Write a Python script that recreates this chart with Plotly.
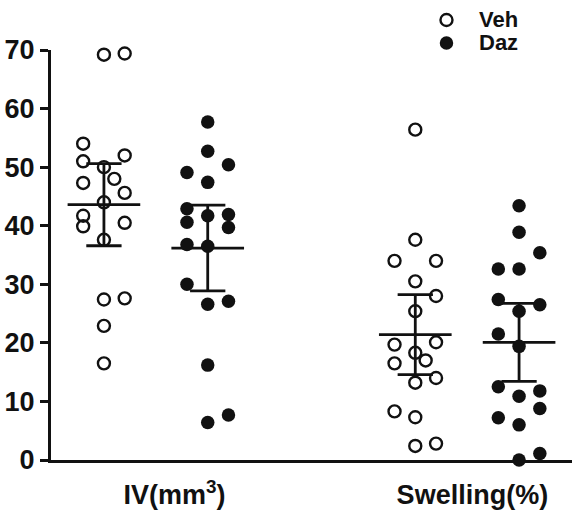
import numpy as np
import plotly.graph_objects as go

# ---- data ----
categories = ["IV(mm<sup>3</sup>)", "Swelling(%)"]
series_names = ["Veh", "Daz"]

iv_veh = [69.2, 69.4, 54.0, 51.0, 52.0, 50.0, 48.0, 47.3, 45.6, 44.0, 41.7, 39.9, 40.5, 37.6, 27.4, 27.6, 22.9, 16.5]
iv_veh_slot = [0, 1, -1, -1, 1, 0, 0.5, -1, 1, 0, -1, -1, 1, 0, 0, 1, 0, 0]

iv_daz = [57.7, 52.7, 50.4, 49.1, 47.4, 42.9, 41.7, 41.9, 40.6, 39.7, 36.8, 36.5, 30.0, 26.6, 27.1, 16.2, 6.4, 7.7]
iv_daz_slot = [0, 0, 1, -1, 0, -1, 0, 1, -1, 1, -1, 0, -1, 0, 1, 0, 0, 1]

sw_veh = [56.4, 37.6, 34.0, 34.0, 30.5, 28.0, 25.4, 19.7, 20.1, 18.3, 17.0, 16.5, 13.2, 14.0, 8.3, 7.3, 2.4, 2.8]
sw_veh_slot = [0, 0, -1, 1, 0, 1, 0, -1, 1, 0, 0.5, -1, 0, 1, -1, 0, 0, 1]

sw_daz = [43.4, 38.9, 35.4, 32.6, 32.6, 27.4, 26.5, 25.4, 21.5, 19.4, 12.5, 11.8, 10.9, 8.8, 7.2, 6.0, 1.1, 0.0]
sw_daz_slot = [0, 0, 1, -1, 0, -1, 1, 0, -1, 0, -1, 1, 0, 1, -1, 0, 1, 0]

y_ticks = [0, 10, 20, 30, 40, 50, 60, 70]

# ---- layout constants ----
W, H = 577, 522
ML, MR, MT, MB = 49, 5, 50, 62
group_pos = {"iv_veh": 1, "iv_daz": 2, "sw_veh": 4, "sw_daz": 5}
slot_w = 0.2
mean_half = 0.35
cap_half = 0.17
T_975_DF17 = 2.110  # two-sided 95% CI, n = 18

INK = "#111"
FONT = "Arial, Liberation Sans, sans-serif"

marker_styles = {
    "Veh": dict(symbol="circle-open", size=12, color=INK, line=dict(width=2.4, color=INK)),
    "Daz": dict(symbol="circle", size=13.5, color=INK, line=dict(width=0)),
}

groups = [
    ("iv_veh", iv_veh, iv_veh_slot, "Veh"),
    ("iv_daz", iv_daz, iv_daz_slot, "Daz"),
    ("sw_veh", sw_veh, sw_veh_slot, "Veh"),
    ("sw_daz", sw_daz, sw_daz_slot, "Daz"),
]

fig = go.Figure()

for key, vals, slots, name in groups:
    xc = group_pos[key]
    v = np.array(vals)
    m = v.mean()
    ci = T_975_DF17 * v.std(ddof=1) / np.sqrt(len(v))
    lo, hi = m - ci, m + ci
    ex = [xc - mean_half, xc + mean_half, None, xc, xc, None,
          xc - cap_half, xc + cap_half, None, xc - cap_half, xc + cap_half]
    ey = [m, m, None, lo, hi, None, hi, hi, None, lo, lo]
    fig.add_trace(go.Scatter(x=ex, y=ey, mode="lines", line=dict(color=INK, width=2.8),
                             showlegend=False, hoverinfo="skip", cliponaxis=False))

for key, vals, slots, name in groups:
    xc = group_pos[key]
    xs = [xc + s * slot_w for s in slots]
    fig.add_trace(go.Scatter(x=xs, y=vals, mode="markers", marker=marker_styles[name],
                             name=name, showlegend=False, cliponaxis=False))

# ---- legend drawn as shapes + text in paper coordinates ----
plot_w = W - ML - MR
plot_h = H - MT - MB


def px_to_paper(px, py):
    return (px - ML) / plot_w, (H - MB - py) / plot_h


legend_x_marker = 446
legend_x_text = 477
legend_rows = [20, 43]
for nm, yy in zip(series_names, legend_rows):
    mx, my = px_to_paper(legend_x_marker, yy)
    st = marker_styles[nm]
    r = st["size"] / 2
    if nm == "Veh":
        fig.add_shape(type="circle", xref="paper", yref="paper", xsizemode="pixel", ysizemode="pixel",
                      xanchor=mx, yanchor=my, x0=-r, x1=r, y0=-r, y1=r,
                      line=dict(color=INK, width=2.4), fillcolor="rgba(0,0,0,0)")
    else:
        fig.add_shape(type="circle", xref="paper", yref="paper", xsizemode="pixel", ysizemode="pixel",
                      xanchor=mx, yanchor=my, x0=-r, x1=r, y0=-r, y1=r,
                      line=dict(color=INK, width=0), fillcolor=INK)
    tx, ty = px_to_paper(legend_x_text, yy)
    fig.add_annotation(x=tx, y=ty, xref="paper", yref="paper", text=nm,
                       showarrow=False, xanchor="left", yanchor="middle",
                       font=dict(size=22, family=FONT, color=INK, weight="bold"))

fig.update_layout(
    width=W, height=H,
    margin=dict(l=ML, r=MR, t=MT, b=MB),
    plot_bgcolor="white", paper_bgcolor="white",
    font=dict(family=FONT, color=INK),
    showlegend=False,
    xaxis=dict(range=[0.49, 5.51], showgrid=False, zeroline=False,
               showline=True, linecolor=INK, linewidth=3,
               tickmode="array", tickvals=[1.68, 4.55], ticktext=categories,
               ticks="", tickfont=dict(size=27, family=FONT, weight="bold"),
               ticklabelstandoff=9),
    yaxis=dict(range=[0, 70], showgrid=False, zeroline=False,
               showline=True, linecolor=INK, linewidth=3,
               tickmode="array", tickvals=y_ticks, ticks="outside", ticklen=8, tickwidth=3,
               tickcolor=INK,
               tickfont=dict(size=27, family=FONT, weight="bold")),
)

fig.write_html("out.html")
